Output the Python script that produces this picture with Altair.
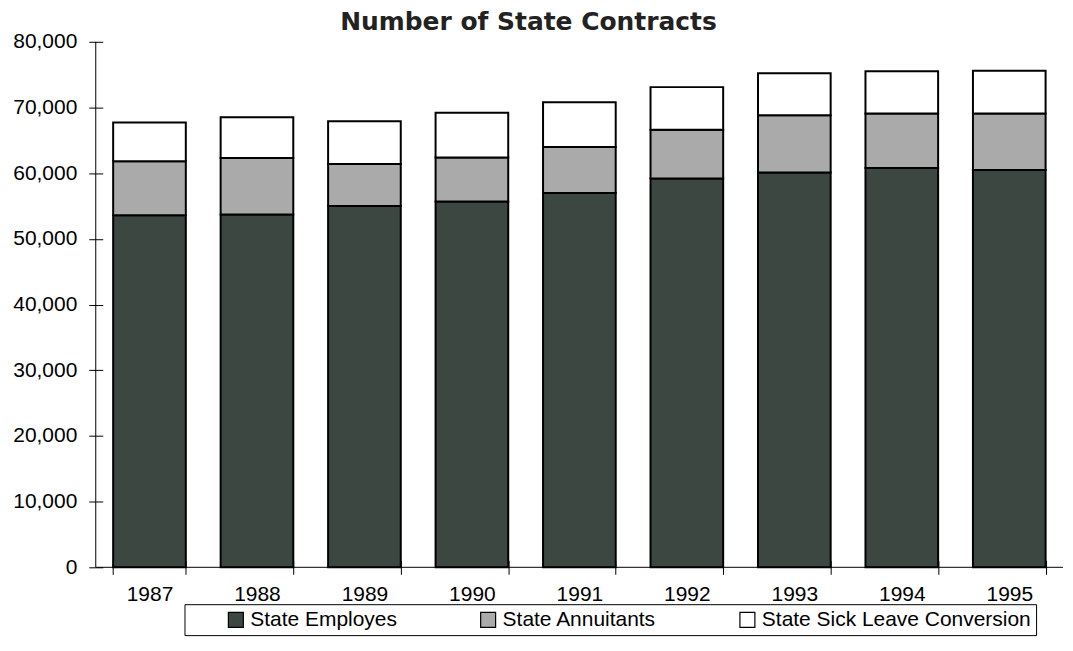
import altair as alt
import pandas as pd

# ---- data ----
years = ["1987", "1988", "1989", "1990", "1991", "1992", "1993", "1994", "1995"]
employees = [53600, 53700, 55000, 55700, 57000, 59200, 60100, 60800, 60500]
annuitants = [8200, 8600, 6400, 6700, 7000, 7400, 8700, 8300, 8600]
sick_leave = [5900, 6200, 6500, 6800, 6800, 6500, 6400, 6400, 6500]
series = ["State Employes", "State Annuitants", "State Sick Leave Conversion"]
colors = ["#3c4742", "#aaaaaa", "#ffffff"]
y_ticks = [0, 10000, 20000, 30000, 40000, 50000, 60000, 70000, 80000]

rows = []
for i, yr in enumerate(years):
    for k, vals in enumerate([employees, annuitants, sick_leave]):
        rows.append({"year": yr, "series": series[k], "value": vals[i], "order": k})
df = pd.DataFrame(rows)

W, H = 970, 527
FONT = "Liberation Sans"

bars = alt.Chart(df).mark_bar(stroke="black", strokeWidth=2, opacity=1).encode(
    x=alt.X(
        "year:N", sort=years, title=None,
        scale=alt.Scale(paddingInner=0.324, paddingOuter=0.162),
        axis=alt.Axis(labelAngle=0, tickBand="extent", domain=False, offset=-7,
                      tickSize=14, tickColor="black", tickWidth=1,
                      labelPadding=9, labelFontSize=21, labelFont=FONT,
                      labelColor="black", grid=False),
    ),
    y=alt.Y(
        "value:Q", stack="zero", title=None,
        scale=alt.Scale(domain=[0, 80000], nice=False, zero=True),
        axis=alt.Axis(values=y_ticks, format=",.0f", domain=False, offset=-7,
                      tickSize=14, tickColor="black", tickWidth=1,
                      labelPadding=12, labelFontSize=21, labelFont=FONT,
                      labelColor="black", grid=False),
    ),
    color=alt.Color(
        "series:N", sort=series,
        scale=alt.Scale(domain=series, range=colors),
        legend=alt.Legend(
            title=None, orient="none", legendX=89, legendY=564,
            direction="horizontal", columns=3, columnPadding=44,
            symbolType="square", symbolSize=225, symbolStrokeColor="black",
            symbolStrokeWidth=1.2, symbolOpacity=1, symbolOffset=36,
            labelFontSize=21, labelFont=FONT, labelColor="black", labelOffset=4,
            labelLimit=500, padding=5, strokeColor="black", fillColor="white",
        ),
    ),
    order=alt.Order("order:Q"),
)

one = alt.Data(values=[{"k": 1}])
y_domain = alt.Chart(one).mark_rule(color="black", strokeWidth=1).encode(
    x=alt.value(0), y=alt.value(0), y2=alt.value(H)
)
x_domain = alt.Chart(one).mark_rule(color="black", strokeWidth=1).encode(
    x=alt.value(0), x2=alt.value(W), y=alt.value(H)
)

chart = alt.layer(bars, y_domain, x_domain).properties(
    width=W, height=H,
    autosize=alt.AutoSizeParams(type="none"),
    padding={"left": 88, "top": 33, "right": 2, "bottom": 70},
    title=alt.TitleParams(
        "Number of State Contracts", font="DejaVu Sans", fontSize=25,
        fontWeight="bold", color="#222222", anchor="middle", dx=-51, offset=-4,
    ),
).configure_view(stroke=None)

chart.save("out.html", embed_options={"renderer": "svg", "actions": False})
